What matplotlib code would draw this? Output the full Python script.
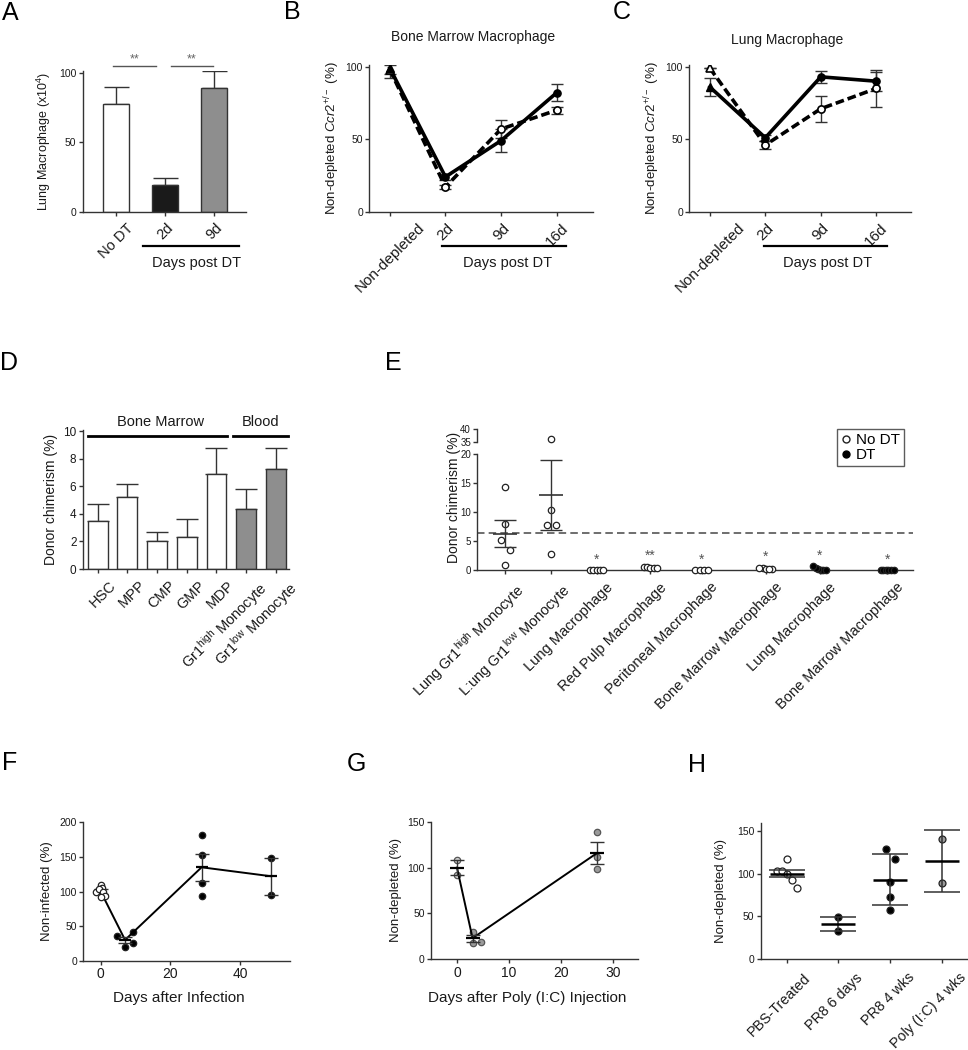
import numpy as np
import matplotlib
matplotlib.use('Agg')
import matplotlib.pyplot as plt
from matplotlib.lines import Line2D
from matplotlib.transforms import ScaledTranslation

plt.rcParams['font.family'] = ['Liberation Sans', 'DejaVu Sans']
plt.rcParams['mathtext.fontset'] = 'custom'
plt.rcParams['mathtext.rm'] = 'Liberation Sans'
plt.rcParams['mathtext.it'] = 'Liberation Sans:italic'
plt.rcParams['mathtext.bf'] = 'Liberation Sans:bold'

# ---------------- DATA ----------------
# Panel A
a_labels = ['No DT', '2d', '9d']
a_values = [78, 19, 89]
a_errors = [12, 5, 12.5]
a_colors = ['white', '#1a1a1a', '#8e8e8e']

# Panels B / C
bc_labels = ['Non-depleted', '2d', '9d', '16d']
b_solid = [99, 24, 49, 82]
b_solid_err = [6.5, 2, 8, 6]
b_dashed = [98, 17, 57, 70]
b_dashed_err = [3, 1.5, 6, 2.5]
c_solid = [86, 51, 93, 90]
c_solid_err = [6, 2, 4, 6.5]
c_dashed = [99, 46, 71, 85]
c_dashed_err = [0, 3, 9, 12.5]

# Panel D
d_labels = ['HSC', 'MPP', 'CMP', 'GMP', 'MDP',
            r'Gr1$^{\mathrm{high}}$ Monocyte', r'Gr1$^{\mathrm{low}}$ Monocyte']
d_values = [3.45, 5.25, 2.05, 2.35, 6.9, 4.35, 7.25]
d_errors = [1.25, 0.9, 0.65, 1.25, 1.9, 1.45, 1.55]
d_is_blood = [False, False, False, False, False, True, True]

# Panel E
e_labels = [r'Lung Gr1$^{\mathrm{high}}$ Monocyte', r'L:ung Gr1$^{\mathrm{low}}$ Monocyte',
            'Lung Macrophage', 'Red Pulp Macrophage', 'Peritoneal Macrophage',
            'Bone Marrow Macrophage', 'Lung Macrophage', 'Bone Marrow Macrophage']
e_values = [[14.4, 7.9, 5.2, 3.4, 0.9],
            [36.3, 10.3, 7.8, 7.8, 2.8],
            [0, 0, 0, 0, 0],
            [0.6, 0.5, 0.4, 0.4, 0.3],
            [0, 0, 0, 0],
            [0.3, 0.2, 0.15, 0.2, 0.4],
            [0, 0, 0, 0.1, 0.3, 0.7],
            [0, 0, 0, 0, 0, 0]]
e_dt = [False, False, False, False, False, False, True, True]
e_means = [6.3, 13.0]
e_sem = [2.3, 6.0]
e_stars = ['', '', '*', '**', '*', '*', '*', '*']
e_cutoff = 6.4

# Panel F
f_days = [0, 7, 29, 49]
f_means = [100, 30, 135, 122]
f_sem = [3, 4.5, 19.5, 26.5]
f_pts_x = [[-1.3, 0, 0.3, -0.5, 0.8, 1.2, 0], [4.6, 7, 9.4, 9.4], [29, 29, 29, 29], [49, 49]]
f_pts_y = [[99, 110, 105.5, 103, 100, 93.5, 92], [35, 20, 41, 25], [181, 153, 112, 93], [148, 95]]
f_open = [True, False, False, False]

# Panel G
g_days = [0, 3, 27]
g_means = [100, 23, 116]
g_sem = [8, 3.7, 12]
g_pts_x = [[0, 0], [3, 3, 4.6], [27, 27, 27]]
g_pts_y = [[108, 92], [30, 18, 18.5], [139, 111, 98]]
g_fill = ['#cfcfcf', '#9a9a9a', '#9a9a9a']

# Panel H
h_labels = ['PBS-Treated', 'PR8 6 days', 'PR8 4 wks', 'Poly (I:C) 4 wks']
h_values = [[117, 103, 103, 100, 93, 83], [49, 33], [129, 117, 90, 73, 57], [140, 89]]
h_means = [100, 41, 93, 115]
h_err = [4, 8, 30, 36]
h_fill = ['white', 'black', 'black', '#9a9a9a']

# ---------------- LAYOUT HELPERS ----------------
W, H = 968, 1050
fig = plt.figure(figsize=(W / 100, H / 100), dpi=100)
AX = '#333333'
TXT = '#1a1a1a'


def style(ax, fs=7.5):
    for s in ['top', 'right']:
        ax.spines[s].set_visible(False)
    for s in ['left', 'bottom']:
        ax.spines[s].set_color(AX)
        ax.spines[s].set_linewidth(1.0)
    ax.tick_params(direction='out', length=3, width=1, color=AX,
                   labelcolor=TXT, labelsize=fs, pad=1.5)
    ax.set_facecolor('none')


def make_axes(x0, x1, xlim, y_lo_px, y_hi_px, v_lo, v_hi, ylim, fs=7.5):
    k = (y_lo_px - y_hi_px) / (v_hi - v_lo)
    ybot = y_lo_px + (v_lo - ylim[0]) * k
    ytop = y_lo_px - (ylim[1] - v_lo) * k
    ax = fig.add_axes([x0 / W, 1 - ybot / H, (x1 - x0) / W, (ybot - ytop) / H])
    ax.set_xlim(*xlim)
    ax.set_ylim(*ylim)
    style(ax, fs)
    return ax


def ftext(x, y, s, **kw):
    kw.setdefault('color', TXT)
    fig.text(x / W, 1 - y / H, s, **kw)


def fline(x0, x1, y, lw=1.6, color='black'):
    fig.add_artist(Line2D([x0 / W, x1 / W], [1 - y / H, 1 - y / H],
                          transform=fig.transFigure, color=color, lw=lw))


def rot_labels(ax, pos, labels, fs, centered=False, dx=0, dy=0):
    ax.set_xticks(pos)
    if centered:
        lbls = ax.set_xticklabels(labels, rotation=45, ha='center', va='top', fontsize=fs)
    else:
        lbls = ax.set_xticklabels(labels, rotation=45, ha='right', va='top',
                                  rotation_mode='anchor', fontsize=fs)
    off = ScaledTranslation(dx / 100, dy / 100, fig.dpi_scale_trans)
    for t in lbls:
        t.set_transform(t.get_transform() + off)


def ylabel_at(ax, text, x_px_offset, fs):
    bb = ax.get_position()
    ax.set_ylabel(text, fontsize=fs, color=TXT)
    ax.yaxis.set_label_coords(x_px_offset / (bb.width * W), 0.5)


def swarm(vals, ppu_y, ppu_x, thresh, step, span):
    vals = np.asarray(vals, float)
    order = np.argsort(-vals, kind='stable')
    offs = np.zeros(len(vals))
    groups, cur = [], [order[0]]
    for i in order[1:]:
        if abs(vals[cur[-1]] - vals[i]) * ppu_y < thresh:
            cur.append(i)
        else:
            groups.append(cur)
            cur = [i]
    groups.append(cur)
    for g in groups:
        n = len(g)
        if n > 1:
            st = min(step, span / (n - 1))
            for j, idx in enumerate(g):
                offs[idx] = (j - (n - 1) / 2) * st / ppu_x
    return offs


# ---------------- PANEL A ----------------
axA = make_axes(82.7, 246, (-0.68, 2.65), 211.7, 73, 0, 100, (0, 101.5))
xa = np.arange(len(a_values))
axA.bar(xa, a_values, width=0.52, color=a_colors, edgecolor=AX, lw=1, zorder=2)
axA.errorbar(xa, a_values, yerr=[np.zeros(len(a_errors)), a_errors], fmt='none',
             ecolor=AX, elinewidth=1, capsize=9, capthick=1, zorder=1)
axA.set_yticks([0, 50, 100])
rot_labels(axA, xa, a_labels, 10.5, centered=True, dy=-3)
ylabel_at(axA, 'Lung Macrophage (x10$^4$)', -30, 9)
fline(113, 156, 66, lw=1, color='#555555')
fline(171, 213, 66, lw=1, color='#555555')
ftext(134.5, 59, '**', ha='center', va='center', fontsize=9, color='#666666')
ftext(192, 59, '**', ha='center', va='center', fontsize=9, color='#666666')
fline(143, 239, 245.7)
ftext(197, 263, 'Days post DT', ha='center', va='center', fontsize=10.5)


# ---------------- PANELS B / C ----------------
def line_panel(x0, x1, xlim, solid, solid_err, dashed, dashed_err, title, title_xy,
               br, txt_x):
    ax = make_axes(x0, x1, xlim, 211.7, 66.7, 0, 100, (0, 101.5))
    x = np.arange(len(solid))
    ax.errorbar(x, dashed, yerr=dashed_err, fmt='none', ecolor=AX, elinewidth=1,
                capsize=4, zorder=2)
    ax.errorbar(x, solid, yerr=solid_err, fmt='none', ecolor=AX, elinewidth=1,
                capsize=4, zorder=2)
    ax.plot(x, dashed, color='black', lw=2.6, ls=(0, (2.4, 1.1)), zorder=3)
    ax.plot(x, solid, color='black', lw=2.6, zorder=4)
    ax.plot(x[1:], dashed[1:], 'o', ms=5.2, mfc='white', mec='black', mew=1.2, zorder=5)
    ax.plot(x[:1], dashed[:1], '^', ms=5.2, mfc='white', mec='black', mew=1.2, zorder=5)
    ax.plot(x[1:], solid[1:], 'o', ms=5.2, mfc='black', mec='black', zorder=6)
    ax.plot(x[:1], solid[:1], '^', ms=5.2, mfc='black', mec='black', zorder=6)
    ax.set_yticks([0, 50, 100])
    rot_labels(ax, x, bc_labels, 11, centered=True, dy=-3)
    ylabel_at(ax, r'Non-depleted $\mathit{Ccr2}^{+/-}$ (%)', -27.6, 9.5)
    ftext(title_xy[0], title_xy[1], title, ha='center', va='center', fontsize=10)
    fline(br[0], br[1], 245.7)
    ftext(txt_x, 263, 'Days post DT', ha='center', va='center', fontsize=10.5)
    return ax


axB = line_panel(369.3, 592.7, (-0.37, 3.65), b_solid, b_solid_err, b_dashed, b_dashed_err,
                 'Bone Marrow Macrophage', (473, 36.7), (441.7, 566), 507.7)
axC = line_panel(689.3, 910.7, (-0.37, 3.62), c_solid, c_solid_err, c_dashed, c_dashed_err,
                 'Lung Macrophage', (786.7, 40), (764, 887), 828)

# ---------------- PANEL D ----------------
axD = make_axes(82.7, 289.3, (-0.5, 6.45), 569, 431, 0, 10, (0, 10.05), fs=8.5)
xd = np.arange(len(d_values))
d_cols = ['#8e8e8e' if b else 'white' for b in d_is_blood]
axD.bar(xd, d_values, width=0.67, color=d_cols, edgecolor=AX, lw=1, zorder=2)
axD.errorbar(xd, d_values, yerr=[np.zeros(len(d_errors)), d_errors], fmt='none',
             ecolor=AX, elinewidth=1, capsize=8, zorder=1)
axD.set_yticks([0, 2, 4, 6, 8, 10])
rot_labels(axD, xd, d_labels, 10.5, dx=11, dy=-3)
ylabel_at(axD, 'Donor chimerism (%)', -24.4, 10)
fline(88, 227, 436, lw=2)
fline(233, 288, 436, lw=2)
ftext(161, 421.7, 'Bone Marrow', ha='center', va='center', fontsize=10.5)
ftext(261, 421.7, 'Blood', ha='center', va='center', fontsize=10.5)

# ---------------- PANEL E ----------------
e_pos = np.array([0, 1.0, 1.98, 3.15, 4.27, 5.66, 6.83, 8.30])
e_xlim = (-0.615, 8.87)
axE = make_axes(477.2, 913.4, e_xlim, 570, 454.3, 0, 20, (0, 20), fs=7)
axEu = make_axes(477.2, 913.4, e_xlim, 442, 429.3, 35, 40, (35, 40), fs=7)
axEu.spines['bottom'].set_visible(False)
axEu.set_xticks([])
axEu.set_yticks([35, 40])
axE.set_yticks([0, 5, 10, 15, 20])
ppx_e = 46.0
ppy_e = (570 - 454.3) / 20
axE.axhline(e_cutoff, color='#555555', lw=1.2, ls=(0, (4.5, 2.5)), zorder=1)
for i, vals in enumerate(e_values):
    vals = np.asarray(vals, float)
    offs = swarm(vals, ppy_e, ppx_e, 12, 8.6, 13)
    fc = 'black' if e_dt[i] else 'white'
    low = vals <= 20
    axE.plot(e_pos[i] + offs[low], vals[low], 'o', ms=4.6, mfc=fc, mec='#222222',
             mew=0.9, clip_on=False, zorder=4)
    if (~low).any():
        axEu.plot(e_pos[i] + offs[~low], vals[~low], 'o', ms=4.6, mfc=fc, mec='#222222',
                  mew=0.9, clip_on=False, zorder=4)
    if e_stars[i]:
        axE.text(e_pos[i], max(vals.max(), 0) + 0.6, e_stars[i], ha='center', va='bottom',
                 fontsize=10, color='#555555')
for i in range(len(e_means)):
    axE.errorbar(e_pos[i], e_means[i], yerr=e_sem[i], fmt='none', ecolor=AX,
                 elinewidth=1, capsize=8, zorder=5)
    axE.plot(e_pos[i], e_means[i], '_', ms=17, mew=1.2, color=AX, zorder=5)
rot_labels(axE, e_pos, e_labels, 10.5, dx=9, dy=-4)
ftext(454.3, 497, 'Donor chimerism (%)', rotation=90, ha='center', va='center', fontsize=10)
leg_handles = [Line2D([], [], marker='o', ls='none', ms=5, mfc='white', mec='#222222'),
               Line2D([], [], marker='o', ls='none', ms=5, mfc='black', mec='black')]
leg = axE.legend(leg_handles, ['No DT', 'DT'], loc='upper left',
                 bbox_to_anchor=(836.8 / W, 1 - 429.3 / H), bbox_transform=fig.transFigure,
                 frameon=True, fancybox=False, fontsize=11, handlelength=0.7,
                 handletextpad=0.3, borderpad=0.25, labelspacing=0.05, borderaxespad=0)
leg.get_frame().set_edgecolor(AX)
leg.get_frame().set_linewidth(1)

# ---------------- PANEL F ----------------
axF = make_axes(83.3, 290, (-5, 54.4), 960.7, 822.3, 0, 200, (0, 200), fs=7.5)
axF.set_yticks([0, 50, 100, 150, 200])
axF.set_xticks([0, 20, 40])
axF.tick_params(axis='x', labelsize=10)
axF.plot(f_days, f_means, color='black', lw=1.4, zorder=3)
axF.errorbar(f_days, f_means, yerr=f_sem, fmt='none', ecolor=AX, elinewidth=1,
             capsize=5, zorder=3)
axF.plot(f_days, f_means, '_', ms=9, mew=1.6, color='black', ls='none', zorder=4)
for xs, ys, op in zip(f_pts_x, f_pts_y, f_open):
    axF.plot(xs, ys, 'o', ms=4.6, mfc='white' if op else 'black', mec='#222222',
             mew=0.9, ls='none', zorder=5 if op else 2)
ylabel_at(axF, 'Non-infected (%)', -30, 9.5)
ftext(179, 998.3, 'Days after Infection', ha='center', va='center', fontsize=11)

# ---------------- PANEL G ----------------
axG = make_axes(431, 638.3, (-5, 34.9), 959.3, 821.7, 0, 150, (0, 150), fs=7.5)
axG.set_yticks([0, 50, 100, 150])
axG.set_xticks([0, 10, 20, 30])
axG.tick_params(axis='x', labelsize=10)
for xs, ys, fc in zip(g_pts_x, g_pts_y, g_fill):
    axG.plot(xs, ys, 'o', ms=4.6, mfc=fc, mec='#555555', mew=0.9, ls='none', zorder=2)
axG.plot(g_days, g_means, color='black', lw=1.4, zorder=3)
axG.errorbar(g_days, g_means, yerr=g_sem, fmt='none', ecolor=AX, elinewidth=1,
             capsize=5, zorder=3)
axG.plot(g_days, g_means, '_', ms=10, mew=1.6, color='black', ls='none', zorder=4)
ylabel_at(axG, 'Non-depleted (%)', -28.7, 9.5)
ftext(526.7, 998.3, 'Days after Poly (I:C) Injection', ha='center', va='center', fontsize=11)

# ---------------- PANEL H ----------------
axH = make_axes(760.7, 968, (-0.5, 3.5), 959.3, 830.7, 0, 150, (0, 159), fs=7.5)
axH.set_yticks([0, 50, 100, 150])
ppx_h = 51.7
ppy_h = (959.3 - 830.7) / 150
xh = np.arange(len(h_values))
for i, vals in enumerate(h_values):
    vals = np.asarray(vals, float)
    offs = swarm(vals, ppy_h, ppx_h, 11, 9, 20)
    axH.plot(xh[i] + offs, vals, 'o', ms=5, mfc=h_fill[i], mec='#222222', mew=0.9,
             ls='none', zorder=2)
axH.errorbar(xh, h_means, yerr=h_err, fmt='none', ecolor=AX, elinewidth=1.1,
             capsize=13, capthick=1.1, zorder=3)
axH.plot(xh, h_means, '_', ms=24, mew=1.8, color='black', ls='none', zorder=4)
rot_labels(axH, xh, h_labels, 10.3, dx=17, dy=-5)
ylabel_at(axH, 'Non-depleted (%)', -33.4, 9.5)

# ---------------- PANEL LETTERS ----------------
for s, (x, y) in zip('ABCDEFGH', [(10, 12.5), (292.5, 12), (622, 12), (9.5, 363),
                                   (393, 363), (10, 763), (356, 764), (697, 765)]):
    ftext(x, y, s, ha='center', va='center', fontsize=18, color='black')

fig.savefig('out.png', dpi=100)
